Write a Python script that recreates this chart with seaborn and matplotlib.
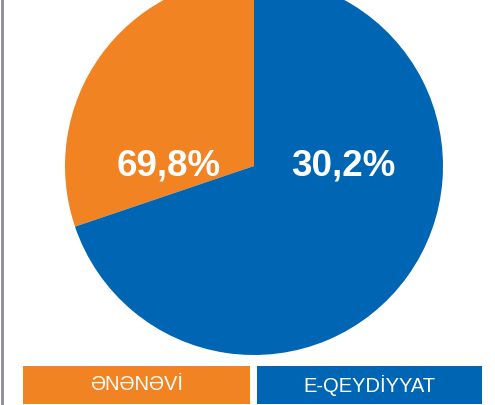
import matplotlib
matplotlib.use("Agg")
import matplotlib.pyplot as plt
import seaborn as sns
from matplotlib.patches import Rectangle

# --- Dados ---
categories = ["ƏNƏNƏVİ", "E-QEYDİYYAT"]
shares = [30.2, 69.8]
shown_labels = ["69,8%", "30,2%"]   # rótulos como aparecem no original
colors = ["#F28322", "#0066B3"]

sns.set_style("white")
plt.rcParams["font.family"] = ["Liberation Sans", "DejaVu Sans"]

W, H = 495, 405
fig = plt.figure(figsize=(W / 100, H / 100), dpi=100)
ax = fig.add_axes([0, 0, 1, 1])

# pizza (centro e raio em pixels)
cx, cy, r = 254, H - 166, 189
ax.pie(shares, colors=colors, startangle=90, counterclock=True,
       radius=r, center=(cx, cy), frame=True,
       wedgeprops=dict(linewidth=0))
ax.set_xlim(0, W)
ax.set_ylim(0, H)
ax.set_aspect("equal")
ax.axis("off")

# rótulos percentuais
ax.text(169, cy, shown_labels[0], color="white", fontsize=26.5,
        fontweight="bold", ha="center", va="center")
ax.text(343, cy, shown_labels[1], color="white", fontsize=26.5,
        fontweight="bold", ha="center", va="center")

# linha cinza à esquerda
ax.plot([2, 2], [0, H], color="#8c8c90", linewidth=2)

# caixas de legenda
boxes = [(23, 250), (257, 482)]
for (x0, x1), cat, col in zip(boxes, categories, colors):
    ax.add_patch(Rectangle((x0, 1), x1 - x0, 38, color=col, linewidth=0))
    ax.text((x0 + x1) / 2, 20, cat, color="white", fontsize=14.5,
            ha="center", va="center")

fig.savefig("out.png", dpi=100)
plt.close()
